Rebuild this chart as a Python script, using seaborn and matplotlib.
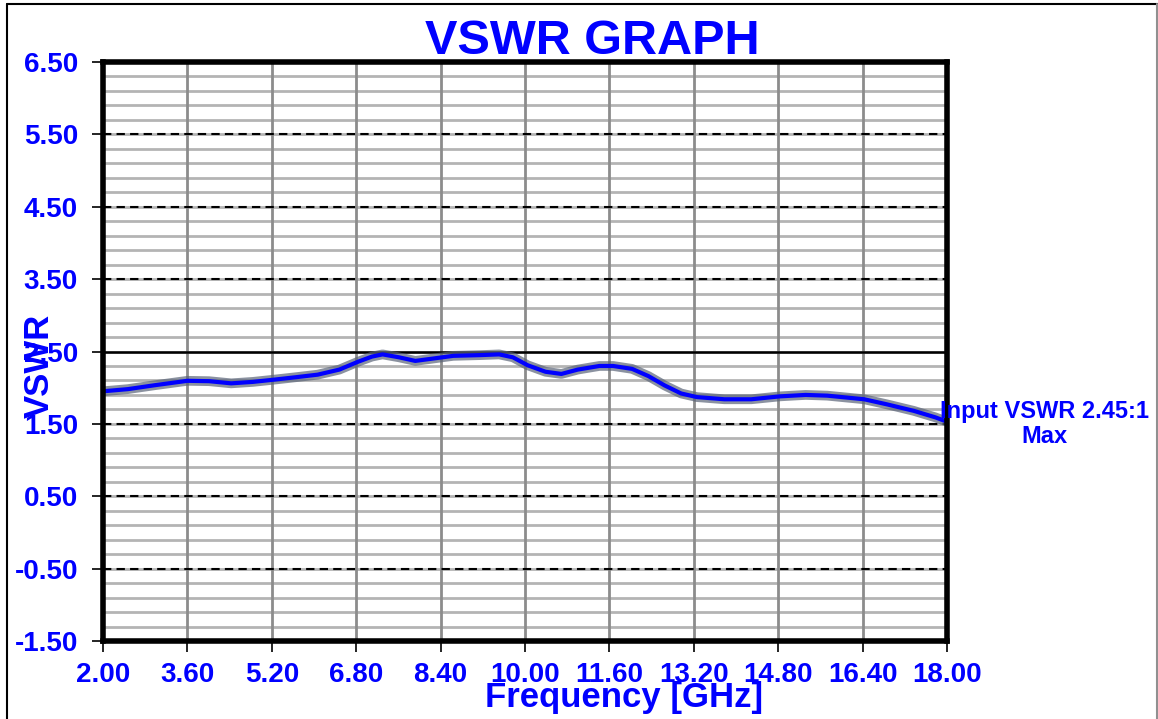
import matplotlib
matplotlib.use("Agg")
import matplotlib.pyplot as plt
import matplotlib.patheffects as pe
from matplotlib.lines import Line2D
import numpy as np
import pandas as pd
import seaborn as sns

# ---- data ----
freq_ghz = [2.00, 2.47, 2.99, 3.60, 4.01, 4.43, 4.84, 5.23, 5.66, 6.07, 6.48, 6.84,
            7.10, 7.30, 7.61, 7.92, 8.23, 8.64, 9.15, 9.51, 9.77, 10.05, 10.39, 10.69,
            11.00, 11.41, 11.67, 12.03, 12.34, 12.65, 12.96, 13.26, 13.78, 14.29, 14.83,
            15.32, 15.73, 16.43, 16.86, 17.37, 17.78, 18.00]
vswr = [1.95, 1.98, 2.035, 2.095, 2.09, 2.06, 2.08, 2.11, 2.145, 2.18, 2.25, 2.36,
        2.43, 2.46, 2.42, 2.37, 2.40, 2.44, 2.45, 2.46, 2.42, 2.31, 2.22, 2.19,
        2.25, 2.30, 2.30, 2.26, 2.16, 2.03, 1.92, 1.87, 1.84, 1.84, 1.88,
        1.90, 1.89, 1.84, 1.77, 1.68, 1.59, 1.53]
x_ticks = [2.0, 3.6, 5.2, 6.8, 8.4, 10.0, 11.6, 13.2, 14.8, 16.4, 18.0]
y_ticks = [-1.5, -0.5, 0.5, 1.5, 2.5, 3.5, 4.5, 5.5, 6.5]
limit_line = 2.5
title = "VSWR GRAPH"
x_label = "Frequency [GHz]"
y_label = "VSWR"
note = "Input VSWR 2.45:1\nMax"

df = pd.DataFrame({"freq": freq_ghz, "vswr": vswr})

sns.set_theme(style="white")
plt.rcParams['font.family'] = ['Liberation Sans', 'DejaVu Sans']

BLUE = "#0000ff"
fig = plt.figure(figsize=(11.58, 7.19), dpi=100)
ax = fig.add_axes([103/1158, 1-641/719, (947-103)/1158, (641-62)/719])

# minor horizontal grid every 0.2
for yv in np.arange(-1.5, 6.5001, 0.2):
    ax.axhline(yv, color="#b4b4b4", lw=2.0, zorder=1)
# vertical grid at major x ticks
for xv in x_ticks[1:-1]:
    ax.axvline(xv, color="#8c8c8c", lw=2.0, zorder=1.5)
# dashed major lines
for yv in y_ticks[1:-1]:
    if abs(yv - limit_line) < 1e-9:
        ax.axhline(yv, color="black", lw=1.8, zorder=2)
    else:
        ax.axhline(yv, color="black", lw=1.5, ls=(0, (4, 2.5)), zorder=2)

sns.lineplot(data=df, x="freq", y="vswr", ax=ax, color=BLUE, lw=3.0, zorder=5,
             path_effects=[pe.Stroke(linewidth=7, foreground="#5a6478", alpha=0.7,
                                     joinstyle="round", capstyle="round"),
                           pe.Stroke(linewidth=3.0, foreground=BLUE, joinstyle="round")])

ax.set_xlim(2.0, 18.0)
ax.set_ylim(-1.5, 6.5)
ax.set_xticks(x_ticks)
ax.set_yticks(y_ticks)
ax.set_xticklabels([f"{v:.2f}" for v in x_ticks])
ax.set_yticklabels([f"{v:.2f}" for v in y_ticks])
ax.tick_params(axis="both", colors="black", labelcolor=BLUE, labelsize=20,
               direction="out", length=8, width=1.2, bottom=True, left=True)
for lab in ax.get_xticklabels() + ax.get_yticklabels():
    lab.set_fontweight("bold")
ax.tick_params(axis="x", pad=7)
ax.tick_params(axis="y", pad=10)
for s in ax.spines.values():
    s.set_color("black")
    s.set_linewidth(4)
    s.set_zorder(6)
ax.set_xlabel("")
ax.set_ylabel("")

fig.text(592/1158, 1-42/719, title, color=BLUE, fontsize=35, fontweight="bold",
         ha="center", va="center")
fig.text(624/1158, 1-697/719, x_label, color=BLUE, fontsize=25, fontweight="bold",
         ha="center", va="center")
fig.text(39/1158, 1-366/719, y_label, color=BLUE, fontsize=25, fontweight="bold",
         ha="center", va="center", rotation=90)
fig.text(1044/1158, 1-424/719, note, color=BLUE, fontsize=17, fontweight="bold",
         ha="center", va="center", linespacing=1.15)

# figure border lines
fig.add_artist(Line2D([7/1158, 7/1158], [0, 1-4/719], color="black", lw=1.5, transform=fig.transFigure))
fig.add_artist(Line2D([7/1158, 1], [1-4/719, 1-4/719], color="black", lw=1.5, transform=fig.transFigure))
fig.add_artist(Line2D([1157/1158, 1157/1158], [0, 1-4/719], color="#909090", lw=1.5, transform=fig.transFigure))

fig.savefig("out.png", dpi=100)
